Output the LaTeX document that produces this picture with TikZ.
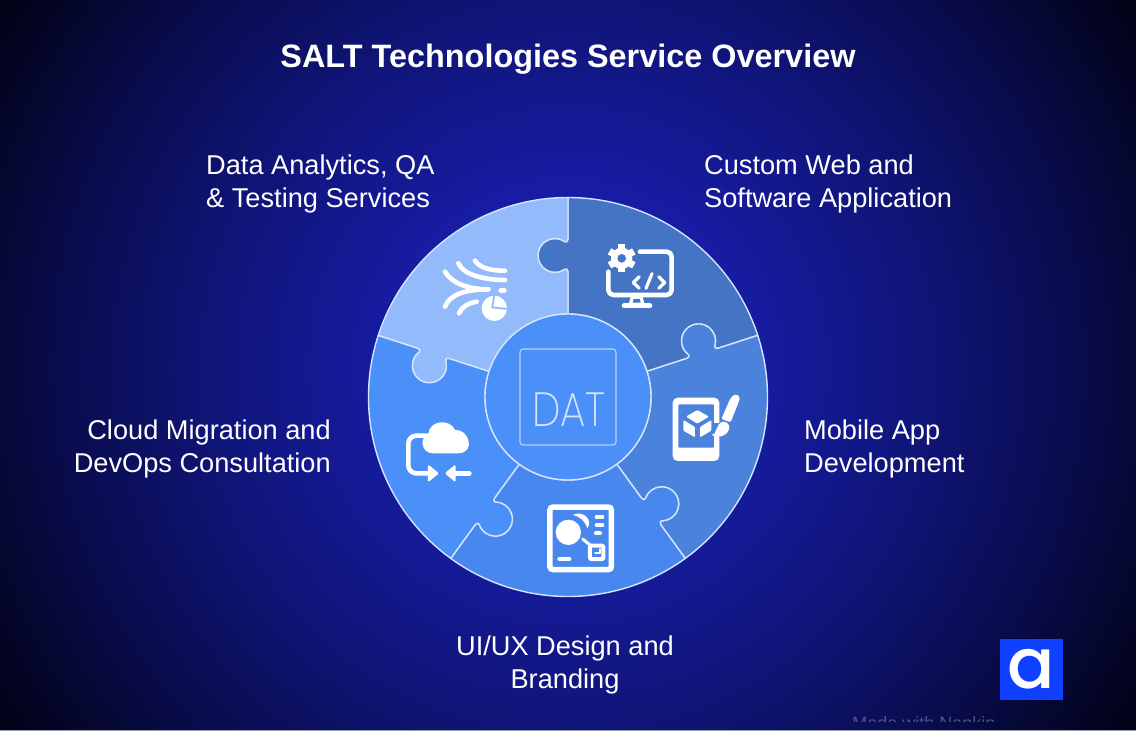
\documentclass[tikz,border=0pt]{standalone}
\usepackage{fontspec}
\usepackage{xcolor}
\setmainfont{Liberation Sans}
\newfontfamily\hubfont[FakeStretch=0.84]{Poppins ExtraLight}
\newfontfamily\logofont{Poppins Medium}
\definecolor{glowA}{HTML}{1A22B8}
\definecolor{glowB}{HTML}{171CA4}
\definecolor{glowC}{HTML}{10157A}
\definecolor{glowD}{HTML}{090C4C}
\definecolor{glowE}{HTML}{02031A}
\definecolor{pieceData}{HTML}{93BBFB}
\definecolor{pieceWeb}{HTML}{4574C4}
\definecolor{pieceMobile}{HTML}{4A82DC}
\definecolor{pieceDesign}{HTML}{4787EE}
\definecolor{pieceCloud}{HTML}{4A90F8}
\definecolor{edgeLine}{HTML}{D6E4FF}
\definecolor{logoBlue}{HTML}{0F40FF}
\pgfdeclareradialshading{bgglow}{\pgfpointorigin}{
    color(0bp)=(glowA); color(6bp)=(glowB); color(12bp)=(glowC);
    color(17.5bp)=(glowD); color(22.5bp)=(glowE); color(25bp)=(black); color(50bp)=(black)}
\tikzset{
    piece-edge/.style = {draw=edgeLine, line width=1.4pt, line join=round},
    main-title/.style = {text=white, inner sep=0pt, font=\bfseries\fontsize{32.4}{38}\selectfont},
    service-label/.style = {text=white, inner sep=0pt, font=\fontsize{27.2}{33}\selectfont},
    hub-circle/.style = {circle, piece-edge, fill=pieceCloud, minimum size=166pt, inner sep=0pt},
    hub-box/.style = {draw=edgeLine!80!pieceCloud, line width=1.1pt, rectangle, rounded corners=3pt, minimum size=96pt},
    hub-text/.style = {text=edgeLine, inner sep=0pt, font=\hubfont\fontsize{48}{48}\selectfont},
    logo-box/.style = {fill=logoBlue, text=white, minimum width=63pt, minimum height=61pt, inner sep=0pt, font=\logofont\fontsize{70}{70}\selectfont},
    icon-crop/.style 2 args = {shift={(#1-568,397-#2)}, xscale=1/3, yscale=-1/3},
    icon-stroke/.style = {draw=white, line width=4.6pt, line cap=round, line join=round},
    icon-thin/.style = {draw=white, line width=3.2pt, line cap=round, line join=round},
}
\newcommand{\wheelpiece}[2]{
    \pgfmathsetmacro{\nextangle}{#1+72}
    \filldraw[piece-edge, fill=#2] ([rotate=#1]83,0) -- ([rotate=#1]125,0)
        .. controls ([rotate=#1]127.5,0) and ([rotate=#1]128.5,1.5) .. ([rotate=#1]127.8,3)
        arc[start angle=#1+216, delta angle=-252, radius=17pt]
        .. controls ([rotate=#1]154.5,1.5) and ([rotate=#1]155.5,0) .. ([rotate=#1]158,0)
        -- ([rotate=#1]199.5,0) arc[start angle=#1, end angle=\nextangle, radius=199.5pt]
        -- ([rotate=\nextangle]158,0)
        .. controls ([rotate=\nextangle]155.5,0) and ([rotate=\nextangle]154.5,1.5) .. ([rotate=\nextangle]155.2,3)
        arc[start angle=\nextangle-36, delta angle=252, radius=17pt]
        .. controls ([rotate=\nextangle]128.5,1.5) and ([rotate=\nextangle]127.5,0) .. ([rotate=\nextangle]125,0)
        -- ([rotate=\nextangle]83,0) arc[start angle=\nextangle, end angle=#1, radius=83pt] -- cycle;
}
\begin{document}
\begin{tikzpicture}[x=1pt, y=1pt]
\useasboundingbox (-568,-334) rectangle (568,397);
\fill[black] (-568,-334) rectangle (568,397);
\begin{scope}
    \clip (-568,-334) rectangle (568,397);
    \shade[shading=bgglow] (0,32) circle[radius=730pt];
\end{scope}
\fill[edgeLine!70!black] (-568,-334) rectangle (568,-333.2);

\node[main-title] (title) at (0,338) {SALT Technologies Service Overview};
\node[service-label, anchor=west, align=left] (dataLabel) at (-362,213) {Data Analytics, QA\\\& Testing Services};
\node[service-label, anchor=west, align=left] (webLabel) at (136,213) {Custom Web and\\Software Application};
\node[service-label, anchor=east, align=right] (cloudLabel) at (-237,-52) {Cloud Migration and\\DevOps Consultation};
\node[service-label, anchor=west, align=left] (mobileLabel) at (236,-52) {Mobile App\\Development};
\node[service-label, align=center] (designLabel) at (-3,-268) {UI/UX Design and\\Branding};

\wheelpiece{18}{pieceWeb}
\wheelpiece{-54}{pieceMobile}
\wheelpiece{-126}{pieceDesign}
\wheelpiece{162}{pieceCloud}
\wheelpiece{90}{pieceData}

\node[hub-circle] (hub) at (0,0) {};
\node[hub-box] (hubBox) at (hub.center) {};
\node[hub-text] (hubText) at (1,-13) {DAT};

\begin{scope}[icon-crop={595}{235}]
    \draw[icon-stroke, rounded corners=5pt] (135,50) -- (230,50) -- (230,180) -- (40,180) -- (40,110);
    \fill[white] (108,182) -- (142,182) -- (150,212) -- (100,212) -- cycle;
    \fill[pieceWeb] (116,192) -- (134,192) -- (137,203) -- (113,203) -- cycle;
    \draw[icon-stroke] (87,212) -- (165,212);
    \foreach \toothangle in {30,90,...,330} {
        \draw[white, line width=7pt] (80,70) -- ++(\toothangle:42);
    }
    \fill[white] (80,70) circle[radius=32pt];
    \fill[pieceWeb] (80,70) circle[radius=13pt];
    \draw[icon-thin] (133,125) -- (115,143) -- (133,160);
    \draw[icon-thin] (153,160) -- (171,116);
    \draw[icon-thin] (191,125) -- (209,143) -- (191,160);
\end{scope}

\begin{scope}[icon-crop={660}{385}]
    \fill[white, rounded corners=5pt] (38,38) rectangle (178,228);
    \fill[pieceMobile, rounded corners=1pt] (55,58) rectangle (162,188);
    \fill[pieceMobile] (160,115) rectangle (182,152);
    \fill[white, rounded corners=1pt] (112,75) -- (147,95) -- (112,116) -- (78,95) -- cycle;
    \fill[white, rounded corners=1pt] (70,105) -- (105,126) -- (105,157) -- (70,137) -- cycle;
    \fill[white, rounded corners=1pt] (120,126) -- (154,105) -- (154,137) -- (120,157) -- cycle;
    \fill[white, rounded corners=2pt] (184,102) -- (212,38) -- (228,26) -- (241,38) -- (212,112) -- cycle;
    \fill[white] (155,150) .. controls (172,150) and (165,118) .. (188,110)
        .. controls (200,108) and (214,122) .. (206,135) .. controls (198,155) and (175,160) .. (155,150) -- cycle;
\end{scope}

\begin{scope}[icon-crop={540}{495}]
    \draw[white, line width=5.5pt, rounded corners=3pt] (30,36) rectangle (214,224);
    \fill[white] (85,112) circle[radius=38pt];
    \fill[white] (98,60) .. controls (130,44) and (160,75) .. (142,100) .. controls (135,78) and (122,65) .. (98,60) -- cycle;
    \draw[icon-thin, line width=4pt] (170,65) -- (187,65);
    \draw[icon-thin, line width=4pt] (170,90) -- (187,90);
    \draw[icon-thin, line width=4pt] (168,115) -- (180,115);
    \draw[icon-thin, line width=4pt] (58,191) -- (88,191);
    \draw[icon-thin, line width=3pt] (128,132) -- (150,150);
    \draw[icon-thin, line width=4pt, rounded corners=1pt] (150,152) rectangle (190,192);
    \draw[icon-thin, line width=1.8pt] (165,175) -- (180,175) -- (180,162);
\end{scope}

\begin{scope}[icon-crop={400}{415}]
    \draw[icon-stroke, rounded corners=8pt] (80,62) -- (25,62) -- (25,175) -- (90,175);
    \fill[white] (100,115) .. controls (60,115) and (60,65) .. (85,55)
        .. controls (90,15) and (150,10) .. (165,45)
        .. controls (205,40) and (230,112) .. (175,115) -- cycle;
    \fill[white, rounded corners=1.5pt] (84,148) -- (117,175) -- (84,202) -- cycle;
    \fill[white, rounded corners=1.5pt] (167,148) -- (134,175) -- (167,202) -- cycle;
    \draw[icon-stroke] (165,175) -- (208,175);
\end{scope}

\begin{scope}[icon-crop={435}{250}]
    \draw[icon-stroke] (120,32) .. controls (135,55) and (170,62) .. (210,62);
    \draw[icon-stroke] (70,40) .. controls (85,75) and (150,90) .. (210,90);
    \draw[icon-stroke] (30,65) .. controls (50,100) and (100,118) .. (160,118);
    \draw[icon-stroke] (30,170) .. controls (45,130) and (100,118) .. (160,118);
    \draw[icon-stroke] (72,190) .. controls (80,170) and (100,160) .. (125,155);
    \draw[icon-stroke] (197,122) -- (208,122);
    \fill[white] (178,175) circle[radius=38pt];
    \draw[pieceData, line width=1.8pt] (218,177) -- (172,172) -- (178,134);
\end{scope}

\node[logo-box] (logo) at (463.5,-272.5) {a};
\begin{scope}
    \clip (280,-324) rectangle (440,-317);
    \node[text=white!28!glowD, inner sep=0pt, anchor=base, font=\fontsize{18}{18}\selectfont] (madeWith) at (356,-332) {Made with Napkin};
\end{scope}
\end{tikzpicture}
\end{document}
